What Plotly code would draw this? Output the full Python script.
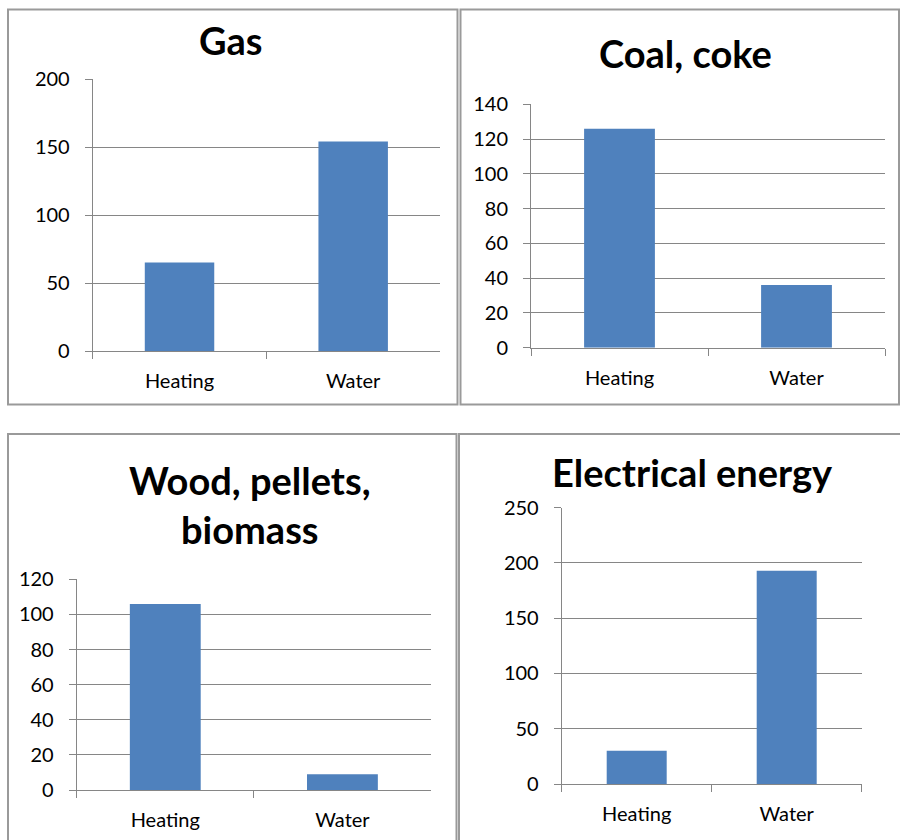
import plotly.graph_objects as go

categories = ["Heating", "Water"]
gas = [65, 154]
coal = [126, 36]
wood = [106, 9]
electric = [30, 193]
titles = ["Gas", "Coal, coke", "Wood, pellets,<br>biomass", "Electrical energy"]
y_max = [200, 140, 120, 250]
y_step = [50, 20, 20, 50]

W, H = 900, 840
BAR = "#4F81BD"
GRID = "#868686"
FONT = "Lato"

# plot areas in window pixels (left, right, top, bottom)
areas = [(92.7, 440, 79, 351), (531, 885, 104.3, 347.7),
         (76.7, 431, 579.3, 790), (561.7, 861.7, 507.7, 784)]
boxes = [(8, 457.5, 9.5, 404.5), (460.5, 899, 9.5, 404.5),
         (8, 456.5, 434, 850), (459, 910, 434, 850)]
title_pos = [(231, 40), (685, 53), (250, 504), (692, 472)]


def px(x):
    return x / W


def py(y):
    return 1 - y / H


fig = go.Figure()
series = [gas, coal, wood, electric]
for i, vals in enumerate(series):
    sfx = "" if i == 0 else str(i + 1)
    fig.add_trace(go.Bar(x=categories, y=vals, marker_color=BAR,
                         marker_line_width=0, width=0.4,
                         xaxis="x" + sfx, yaxis="y" + sfx, showlegend=False))
    l, r, t, b = areas[i]
    fig.update_layout(**{
        "xaxis" + sfx: dict(domain=[px(l), px(r)], anchor="y" + sfx,
                            showline=True, linecolor=GRID, linewidth=1,
                            ticks="outside", tickson="boundaries", ticklen=7,
                            tickcolor=GRID, showgrid=False, fixedrange=True,
                            automargin=False, ticklabelstandoff=12,
                            tickfont=dict(family=FONT, size=20, color="#000")),
        "yaxis" + sfx: dict(domain=[py(b), py(t)], anchor="x" + sfx,
                            range=[0, y_max[i]], dtick=y_step[i],
                            showline=True, linecolor=GRID, linewidth=1,
                            ticks="outside", ticklen=7, tickcolor=GRID,
                            showgrid=True, gridcolor=GRID, gridwidth=1,
                            zeroline=False, ticklabelstandoff=11,
                            automargin=False, fixedrange=True,
                            tickfont=dict(family=FONT, size=20, color="#000")),
    })
    x0, x1, y0, y1 = boxes[i]
    fig.add_shape(type="rect", xref="paper", yref="paper",
                  x0=px(x0), x1=px(x1), y0=py(y1), y1=py(y0),
                  line=dict(color="#9a9a9a", width=2), fillcolor="rgba(0,0,0,0)")
    tx, ty = title_pos[i]
    fig.add_annotation(text="<b>" + titles[i] + "</b>", xref="paper", yref="paper",
                       x=px(tx), y=py(ty), xanchor="center", yanchor="middle",
                       showarrow=False, font=dict(family=FONT, size=38, color="#000"))

fig.update_layout(width=W, height=H,
                  margin=dict(l=0, r=0, t=0, b=0, pad=0, autoexpand=False),
                  paper_bgcolor="white", plot_bgcolor="white", bargap=0.6)
fig.write_html("out.html", config={"displayModeBar": False},
               post_script="document.body.style.margin='0';"
                           "document.body.style.overflow='hidden';")
